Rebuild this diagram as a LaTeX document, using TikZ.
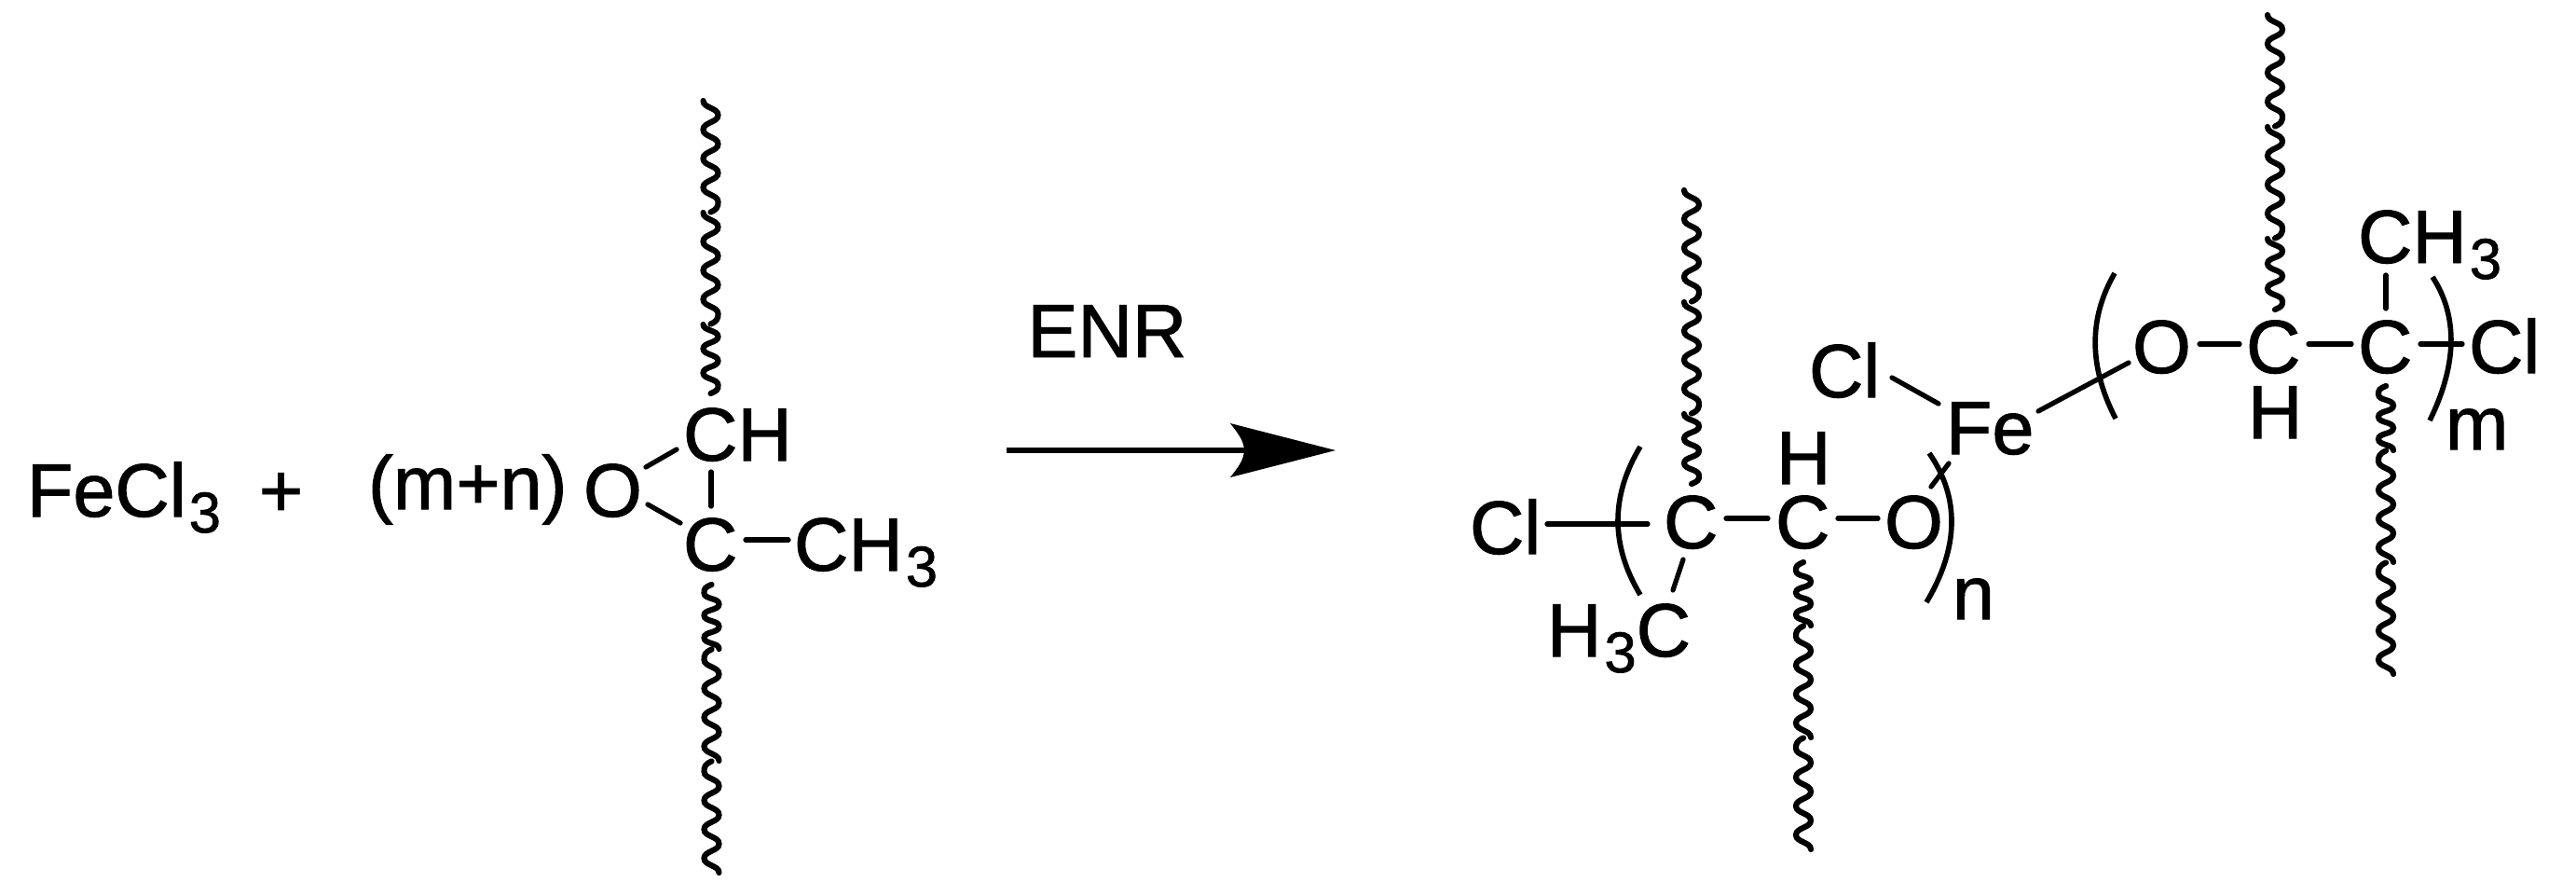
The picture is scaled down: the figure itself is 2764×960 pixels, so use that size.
\documentclass[tikz,border=0pt]{standalone}
\usepackage{fontspec}
\setmainfont{Liberation Sans}
\newfontfamily\chemfont[FakeBold=1.2]{Liberation Sans}
\usetikzlibrary{arrows.meta}
\pgfdeclarearrow{
  name=ChemHead,
  setup code={
    \pgfarrowssettipend{0pt}
    \pgfarrowssetbackend{-32.15pt}
    \pgfarrowssetlineend{-27pt}
    \pgfarrowssetvisualbackend{-27.9pt}
  },
  drawing code={
    \pgfpathmoveto{\pgfpoint{0pt}{0pt}}
    \pgfpathlineto{\pgfpoint{-32.15pt}{8.25pt}}
    \pgfpathcurveto{\pgfpoint{-30pt}{5.5pt}}{\pgfpoint{-27.9pt}{3pt}}{\pgfpoint{-27.9pt}{0pt}}
    \pgfpathcurveto{\pgfpoint{-27.9pt}{-3pt}}{\pgfpoint{-30pt}{-5.5pt}}{\pgfpoint{-32.15pt}{-8.25pt}}
    \pgfpathclose
    \pgfusepathqfill
  }
}
\newcommand{\subt}[1]{\kern0.03cm\raisebox{-0.17cm}{\fontsize{17.5pt}{17.5pt}\selectfont #1}}
% a bond from a point on node A to a point on node B (offsets from each node's text origin)
\newcommand{\bond}[6]{\draw[bondline] ([shift={(#2,#3)}]#1.base west) -- ([shift={(#5,#6)}]#4.base west);}
% a wavy chain from its free end; name, position, direction (1 or -1), step of the last stretch
\newcommand{\wave}[4]{%
  \coordinate (#1) at (#2);
  \draw[wavy,shift={(#1)},scale=#3] (0,0)
    \foreach \u in {1,2}{
      \foreach \i in {1,2,3}{
        .. controls +(0,8) and +(0,-8) .. ++(16,15.5)
        .. controls +(0,8) and +(0,-8) .. ++(-16,15.5)
      }
      .. controls +(0,8) and +(0,-8) .. ++(16,15.5)
      .. controls +(0,5) and +(7,-3) .. ++(-8,11)
      ++(-8,0.5)
    }
    \foreach \i in {1,2}{
      .. controls +(0,7) and +(0,-7) .. ++(16,#4)
      .. controls +(0,7) and +(0,-7) .. ++(-16,#4)
    }
    .. controls +(0,7) and +(0,-7) .. ++(16,#4)
    .. controls +(0,5) and +(7,-3) .. ++(-8,9);
}
\tikzset{
  atom/.style={inner sep=0pt,outer sep=0pt,anchor=base west,font=\chemfont\fontsize{23pt}{23pt}\selectfont},
  bondline/.style={line width=1.5pt,line cap=round},
  parenline/.style={line width=1.6pt},
  wavy/.style={line width=1.75pt,line cap=round},
  reaction/.style={line width=1.7pt,-{ChemHead}}
}
\begin{document}
\begin{tikzpicture}[x=0.01cm,y=-0.01cm]
\useasboundingbox (0,0) rectangle (2764,960);
% reactants
\node[atom] (fecl) at (29,554) {FeCl\subt{3}};
\node[atom] (plus) at (278,554) {+};
\node[atom] (mn) at (395,546) {(m+n)};
\node[atom] (Oa) at (626,554) {O};
\node[atom] (CHa) at (733,494) {CH};
\node[atom] (Ca) at (733,612) {C};
\node[atom] (Mea) at (852,612) {CH\subt{3}};
% arrow
\node[atom] (enr) at (1102.5,383) {ENR};
\coordinate (arrS) at (1080,483);
\coordinate (arrE) at (1433,483);
\draw[reaction] (arrS) -- (arrE);
% product, left unit
\node[atom] (Clb) at (1577,594) {Cl};
\node[atom] (Cb) at (1785,588) {C};
\node[atom] (Meb) at (1660,704) {H\subt{3}C};
\node[atom] (Hc) at (1906,519) {H};
\node[atom] (Cc) at (1905,588) {C};
\node[atom] (Ob) at (2022,588) {O};
\node[atom] (nn) at (2095,664) {n};
\node[atom] (Fe) at (2088,487) {Fe};
\node[atom] (Clf) at (1941,426) {Cl};
% product, right unit
\node[atom] (Od) at (2288,400) {O};
\node[atom] (Cd) at (2410,400) {C};
\node[atom] (Hd) at (2412,470) {H};
\node[atom] (Ce) at (2530,400) {C};
\node[atom] (Cle) at (2649,400) {Cl};
\node[atom] (mm) at (2624,482) {m};
\node[atom] (Mee) at (2530,282) {CH\subt{3}};
% bonds
\bond{Oa}{67}{-53}{CHa}{-7}{-12}
\bond{Oa}{69}{-13}{Ca}{-3}{-51}
\bond{CHa}{30}{12}{Ca}{30}{-69}
\bond{Ca}{67}{-33}{Mea}{-6}{-33}
\bond{Clb}{83}{-32}{Cb}{-17}{-26}
\bond{Cb}{67}{-32}{Cc}{-8}{-32}
\bond{Cc}{67}{-32}{Ob}{-7}{-32}
\bond{Cb}{21}{12}{Meb}{135}{-71}
\bond{Clf}{89}{-21}{Fe}{-8}{-54}
\bond{Fe}{3}{10}{Ob}{50}{-66}
\bond{Fe}{99}{-46}{Od}{-4}{-11}
\bond{Od}{72}{-31}{Cd}{-7}{-31}
\bond{Cd}{67}{-31}{Ce}{-7}{-31}
\bond{Ce}{67}{-31}{Cle}{-7}{-31}
\bond{Mee}{30}{13}{Ce}{30}{-69}
% brackets
\draw[parenline] (1760,479) .. controls (1728,532) and (1728,585) .. (1760,638);
\draw[parenline] (2070,486) .. controls (2103,534) and (2102,587) .. (2067,646);
\draw[parenline] (2269,293) .. controls (2241,341) and (2241,393) .. (2270,449);
\draw[parenline] (2610,297) .. controls (2638,340) and (2636,392) .. (2607,451);
% wavy chains
\wave{wa}{754.5,108}{1}{13}
\wave{wb}{771.5,936}{-1}{12}
\wave{wc}{1807,204}{1}{13.2}
\wave{wd}{1943,911}{-1}{11.8}
\wave{we}{2433,16}{1}{13.4}
\wave{wf}{2568,723}{-1}{12}
\end{tikzpicture}
\end{document}
